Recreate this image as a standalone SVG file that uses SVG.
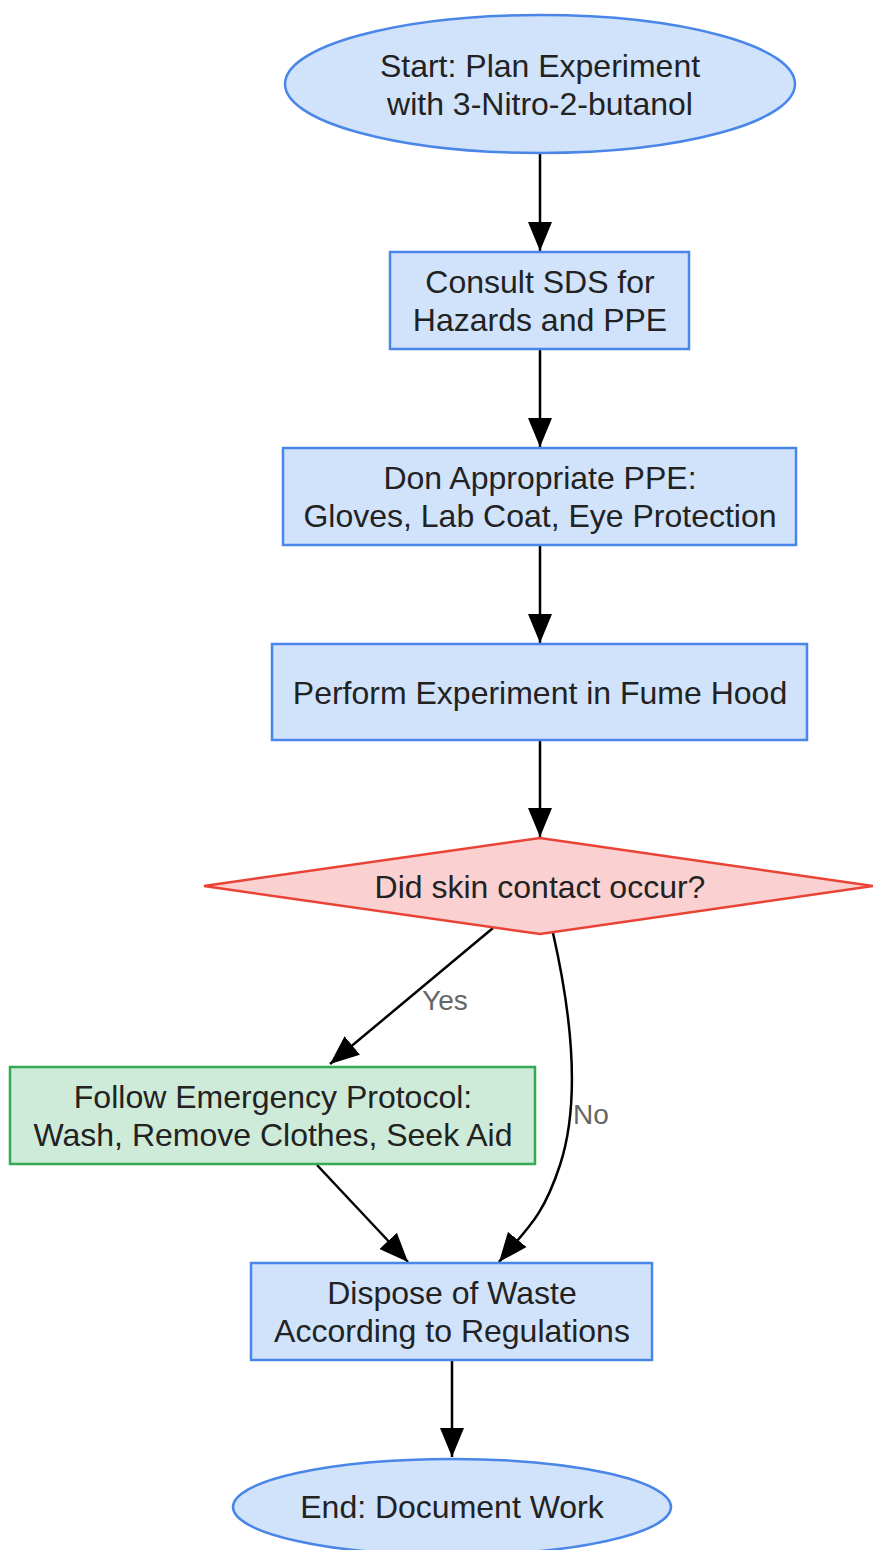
<svg xmlns="http://www.w3.org/2000/svg" width="873" height="1550" viewBox="0 0 873 1550">
<style>
.blue{fill:#d0e3fb;stroke:#4a86e8;stroke-width:2.5}
.green{fill:#ceead9;stroke:#34a853;stroke-width:2.5}
.red{fill:#fad0d0;stroke:#ea4335;stroke-width:2.5}
.t{font-family:"Liberation Sans",Arial,sans-serif;font-size:32px;fill:#222;text-anchor:middle}
.lbl{font-family:"Liberation Sans",Arial,sans-serif;font-size:28px;fill:#666;text-anchor:middle}
.e{fill:none;stroke:#000;stroke-width:2.5;marker-end:url(#ah)}
</style>
<defs>
<marker id="ah" markerUnits="userSpaceOnUse" markerWidth="30" markerHeight="26" viewBox="0 0 30 26" refX="29" refY="13" orient="auto">
<path d="M0,1 L29,13 L0,25 Z" fill="#000"/>
</marker>
</defs>
<rect width="873" height="1550" fill="#fff"/>
<g id="connectors">
<path class="e" d="M540,153 L540,251"/>
<path class="e" d="M540,349 L540,447"/>
<path class="e" d="M540,545 L540,643"/>
<path class="e" d="M540,740 L540,837"/>
<path class="e" d="M493,928 L330,1064"/>
<path class="e" d="M553,933 C575,1030 578,1110 560,1165 S525,1230 499,1262"/>
<path class="e" d="M317,1165 L408,1262"/>
<path class="e" d="M452,1360 L452,1457"/>
<text class="lbl" x="445" y="1010">Yes</text>
<text class="lbl" x="591" y="1124">No</text>
</g>
<g id="start">
<ellipse class="blue" cx="540" cy="84" rx="255" ry="69"/>
<text class="t" x="540" y="77">Start: Plan Experiment</text>
<text class="t" x="540" y="115">with 3-Nitro-2-butanol</text>
</g>
<g id="consult">
<rect class="blue" x="390" y="252" width="299" height="97"/>
<text class="t" x="540" y="293">Consult SDS for</text>
<text class="t" x="540" y="331">Hazards and PPE</text>
</g>
<g id="don">
<rect class="blue" x="283" y="448" width="513" height="97"/>
<text class="t" x="540" y="489">Don Appropriate PPE:</text>
<text class="t" x="540" y="527">Gloves, Lab Coat, Eye Protection</text>
</g>
<g id="perform">
<rect class="blue" x="272" y="644" width="535" height="96"/>
<text class="t" x="540" y="704">Perform Experiment in Fume Hood</text>
</g>
<g id="decision">
<polygon class="red" points="204,886 540,838 873,886 540,934"/>
<text class="t" x="540" y="898">Did skin contact occur?</text>
</g>
<g id="emergency">
<rect class="green" x="10" y="1067" width="525" height="97"/>
<text class="t" x="273" y="1108">Follow Emergency Protocol:</text>
<text class="t" x="273" y="1146">Wash, Remove Clothes, Seek Aid</text>
</g>
<g id="dispose">
<rect class="blue" x="251" y="1263" width="401" height="97"/>
<text class="t" x="452" y="1304">Dispose of Waste</text>
<text class="t" x="452" y="1342">According to Regulations</text>
</g>
<g id="end">
<ellipse class="blue" cx="452" cy="1507" rx="219" ry="48"/>
<text class="t" x="452" y="1518">End: Document Work</text>
</g>
</svg>
